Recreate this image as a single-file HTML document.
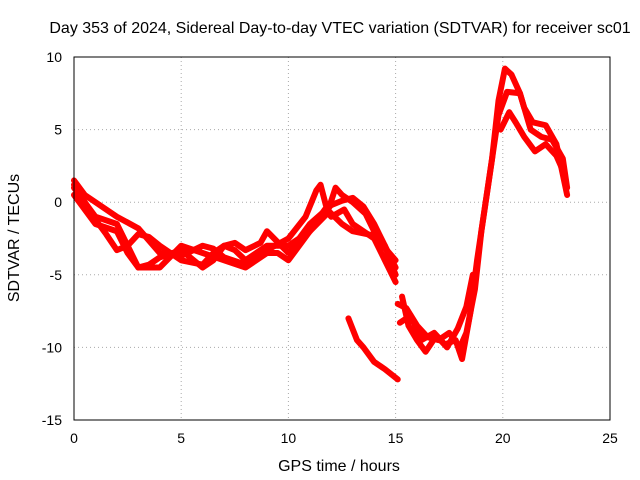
<!DOCTYPE html>
<html><head><meta charset="utf-8"><style>
body{margin:0;background:#fff;}
svg{display:block;font-family:"Liberation Sans",sans-serif;}
</style></head><body>
<svg id="chart" width="640" height="480">
<text x="340" y="33" font-size="16" text-anchor="middle">Day 353 of 2024, Sidereal Day-to-day VTEC variation (SDTVAR) for receiver sc01</text>
<text x="339" y="471" font-size="16" text-anchor="middle">GPS time / hours</text>
<text transform="translate(19,238) rotate(-90)" font-size="16" text-anchor="middle">SDTVAR / TECUs</text>
<g id="grid"></g><g id="marks"></g>
<rect x="74" y="57" width="536" height="363" fill="none" stroke="#000"/>
</svg>
<script>
const xTicks=[0,5,10,15,20,25];
const yTicks=[10,5,0,-5,-10,-15];
const curve1=[[0,1.2],[0.5,0],[1,-1.2],[1.5,-2.2],[2,-3.3],[2.5,-3],[3,-2.2],[3.5,-2.4],[4,-3],[5,-4],[6,-4.3],[6.5,-3.5],[7,-3],[7.5,-3.3],[8,-4],[9,-3],[10,-3],[10.5,-2.5],[11,-1.5],[12,-0.2],[12.5,0.1],[13,0.3],[13.5,-0.3],[14,-1.5],[14.5,-3],[15,-5]];
const curve2=[[0,1.5],[0.5,0.5],[1,0],[2,-1],[3,-1.8],[4,-3.5],[5,-3.7],[6,-3],[6.5,-3.2],[7,-3.8],[8,-4.3],[9,-3.3],[10,-2.5],[10.8,-1],[11.3,0.8],[11.5,1.2],[11.8,-0.5],[12.5,-1.5],[13,-2],[14,-2.3],[15,-4]];
const curve3=[[0,0.5],[1,-1.5],[2,-2],[2.5,-3.5],[3,-4.5],[3.5,-4.3],[4,-3.8],[5,-3.3],[6,-4.5],[6.5,-4],[7,-3],[7.5,-2.8],[8,-3.3],[8.7,-2.8],[9,-2],[10,-3.5],[11,-2],[11.7,-0.5],[12,-1],[12.6,-0.5],[13,-1.5],[13.5,-2],[14,-2.5],[15,-5.5]];
const curve4=[[0,1],[1,-1],[2,-1.5],[2.5,-3],[3,-4.5],[4,-4.5],[5,-3],[6,-3.5],[7,-4],[8,-4.5],[9,-3.5],[9.5,-3.5],[10,-4],[11,-2],[11.8,-0.8],[12.2,1],[12.5,0.5],[13,0],[13.6,-0.8],[14,-2],[14.5,-3],[15,-4.5]];
const lowSegment=[[12.8,-8],[13.2,-9.5],[13.5,-10],[14,-11],[14.5,-11.5],[15.1,-12.2]];
const lateA=[[15.1,-7],[15.5,-7.3],[16,-8.5],[16.5,-9.3],[17,-9.5],[17.5,-9],[18,-10],[18.3,-9],[18.7,-6],[19,-2],[19.5,3],[19.8,7],[20.1,9.2],[20.4,8.8],[20.8,7.5],[21,6.5],[21.4,5.5],[22,5.3],[22.5,4],[23,0.5]];
const lateB=[[15.2,-8.3],[15.7,-7.8],[16.2,-9.5],[16.8,-9],[17.3,-9.8],[17.8,-9.5],[18.1,-10.8],[18.5,-7.5],[18.8,-4],[19.3,1],[19.8,6],[20.2,7.6],[20.8,7.5],[21.3,5],[21.8,4.5],[22.3,4.3],[22.8,3],[23,1]];
const lateC=[[19.9,5],[20.3,6.2],[20.6,5.5],[21,4.5],[21.5,3.5],[22,4],[22.5,3.2],[22.8,2.2]];
const lateD=[[15.3,-6.5],[15.6,-8.5],[16,-9.5],[16.4,-10.3],[16.9,-9.2],[17.4,-10],[17.9,-8.7],[18.3,-7.2],[18.6,-5]];
const series=[curve1,curve2,curve3,curve4,lowSegment,lateA,lateB,lateC,lateD];
const X=v=>74+v*536/25, Y=v=>57+(10-v)*363/25;
const NS="http://www.w3.org/2000/svg";
const grid=document.getElementById('grid'), marks=document.getElementById('marks');
xTicks.forEach(t=>{
 const l=document.createElementNS(NS,'line');l.setAttribute('x1',X(t));l.setAttribute('x2',X(t));l.setAttribute('y1',57);l.setAttribute('y2',420);
 l.setAttribute('stroke',t>0&&t<25?'#aaa':'none');l.setAttribute('stroke-dasharray','1,3');
 
 
 grid.appendChild(l);
 const tx=document.createElementNS(NS,'text');tx.setAttribute('x',X(t));tx.setAttribute('y',443);tx.setAttribute('font-size','14');tx.setAttribute('text-anchor','middle');tx.textContent=t;
 
 
 grid.appendChild(tx);
});
yTicks.forEach(t=>{
 const l=document.createElementNS(NS,'line');l.setAttribute('x1',74);l.setAttribute('x2',610);l.setAttribute('y1',Y(t));l.setAttribute('y2',Y(t));
 l.setAttribute('stroke',t<10&&t>-15?'#aaa':'none');l.setAttribute('stroke-dasharray','1,3');
 
 
 grid.appendChild(l);
 const tx=document.createElementNS(NS,'text');tx.setAttribute('x',62);tx.setAttribute('y',Y(t)+5);tx.setAttribute('font-size','14');tx.setAttribute('text-anchor','end');tx.textContent=t;
 
 
 grid.appendChild(tx);
});
series.forEach((s,i)=>{
 const p=document.createElementNS(NS,'polyline');
 p.setAttribute('points',s.map(d=>X(d[0])+','+Y(d[1])).join(' '));
 p.setAttribute('fill','none');p.setAttribute('stroke','#f00');p.setAttribute('stroke-width','6');p.setAttribute('stroke-linejoin','round');p.setAttribute('stroke-linecap','round');
 
 
 marks.appendChild(p);
});
</script>
</body></html>
